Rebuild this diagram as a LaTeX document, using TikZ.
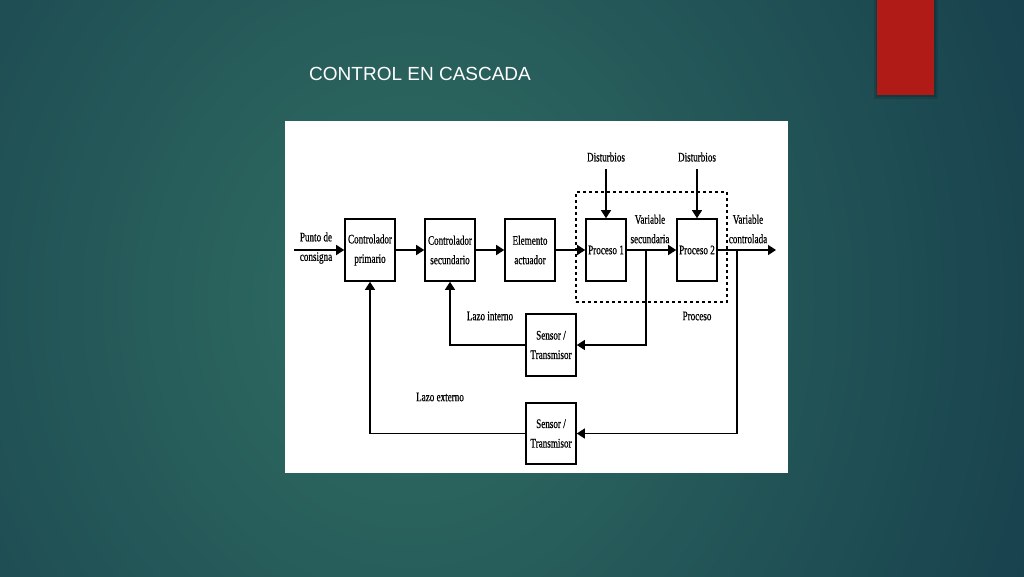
\documentclass[tikz,border=0pt]{standalone}
\usepackage{fontspec}
\usetikzlibrary{arrows.meta}
\newfontfamily\diagfont[FakeStretch=0.7,FakeBold=0.6]{Liberation Serif}
\newfontfamily\titlefont{Liberation Sans}
\definecolor{bgedge}{HTML}{143A4A}
\definecolor{bgcenter}{HTML}{306E63}
\definecolor{redbar}{HTML}{B01A17}
\begin{document}
\begin{tikzpicture}[x=1pt,y=-1pt,
  blk/.style={draw=black,line width=1.6pt,fill=white,minimum width=50pt,minimum height=62pt,inner sep=0pt,align=center,font=\diagfont\fontsize{13}{19.5}\selectfont},
  lbl/.style={inner sep=0pt,align=center,font=\diagfont\fontsize{13}{19.5}\selectfont},
  arr/.style={line width=1.6pt,-{Triangle[length=8pt,width=10pt]}},
  fb/.style={line width=1.2pt,-{Triangle[length=8pt,width=10pt]}}]
\useasboundingbox (0,0) rectangle (1024,576);
% background
\fill[bgedge] (0,0) rectangle (1024,576);
\begin{scope}
\clip (0,0) rectangle (1024,576);
\shade[inner color=bgcenter,outer color=bgedge] (410,300) ellipse (780 and 880);
\end{scope}
% red bar with soft shadow
\fill[black,opacity=0.12] (874,0) rectangle (938,99);
\fill[black,opacity=0.12] (876,0) rectangle (936,97);
\fill[redbar] (877,0) rectangle (934,95);
% title
\node[anchor=base west,inner sep=0pt,text=white,font=\titlefont\fontsize{19}{22}\selectfont] (title) at (309,80) {CONTROL EN CASCADA};
% white picture area
\fill[white] (285,121) rectangle (788,473);
% process dashed box
\node[draw=black,dashed,line width=1.2pt,minimum width=151pt,minimum height=110pt,inner sep=0pt] (proc) at (651.5,247) {};
% blocks
\node[blk] (cp) at (370,250) {Controlador\\primario};
\node[blk] (cs) at (450,250) {Controlador\\secundario};
\node[blk] (ea) at (530,250) {Elemento\\actuador};
\node[blk,minimum width=40pt] (p1) at (606,250) {Proceso 1};
\node[blk,minimum width=40pt] (p2) at (697,250) {Proceso 2};
\node[blk] (s1) at (551,345) {Sensor /\\Transmisor};
\node[blk,minimum height=61pt] (s2) at (551,433.5) {Sensor /\\Transmisor};
% coordinates
\coordinate (in) at (294,250);
\coordinate (out) at (776,250);
\coordinate (d1) at (606,169);
\coordinate (d2) at (697,169);
\coordinate (b1) at (646,250);
\coordinate (b2) at (737,250);
% labels
\node[lbl] (lin) at (316,248) {Punto de\\consigna};
\node[lbl] (lvs) at (650,229) {Variable\\secundaria};
\node[lbl] (lvc) at (748,229) {Variable\\controlada};
\node[lbl] (ld1) at (606,157) {Disturbios};
\node[lbl] (ld2) at (697,157) {Disturbios};
\node[lbl] (lpr) at (697,316) {Proceso};
\node[lbl] (lli) at (490,316) {Lazo interno};
\node[lbl] (lle) at (440,397) {Lazo externo};
% connectors
\draw[arr] (in) -- (cp.west);
\draw[arr] (cp.east) -- (cs.west);
\draw[arr] (cs.east) -- (ea.west);
\draw[arr] (ea.east) -- (p1.west);
\draw[arr] (p1.east) -- (p2.west);
\draw[arr] (p2.east) -- (out);
\draw[fb] (d1) -- (p1.north);
\draw[fb] (d2) -- (p2.north);
\draw[fb] (b1) |- (s1.east);
\draw[fb] (s1.west) -| (cs.south);
\draw[fb] (b2) |- (s2.east);
\draw[fb] (s2.west) -| (cp.south);
\end{tikzpicture}
\end{document}
